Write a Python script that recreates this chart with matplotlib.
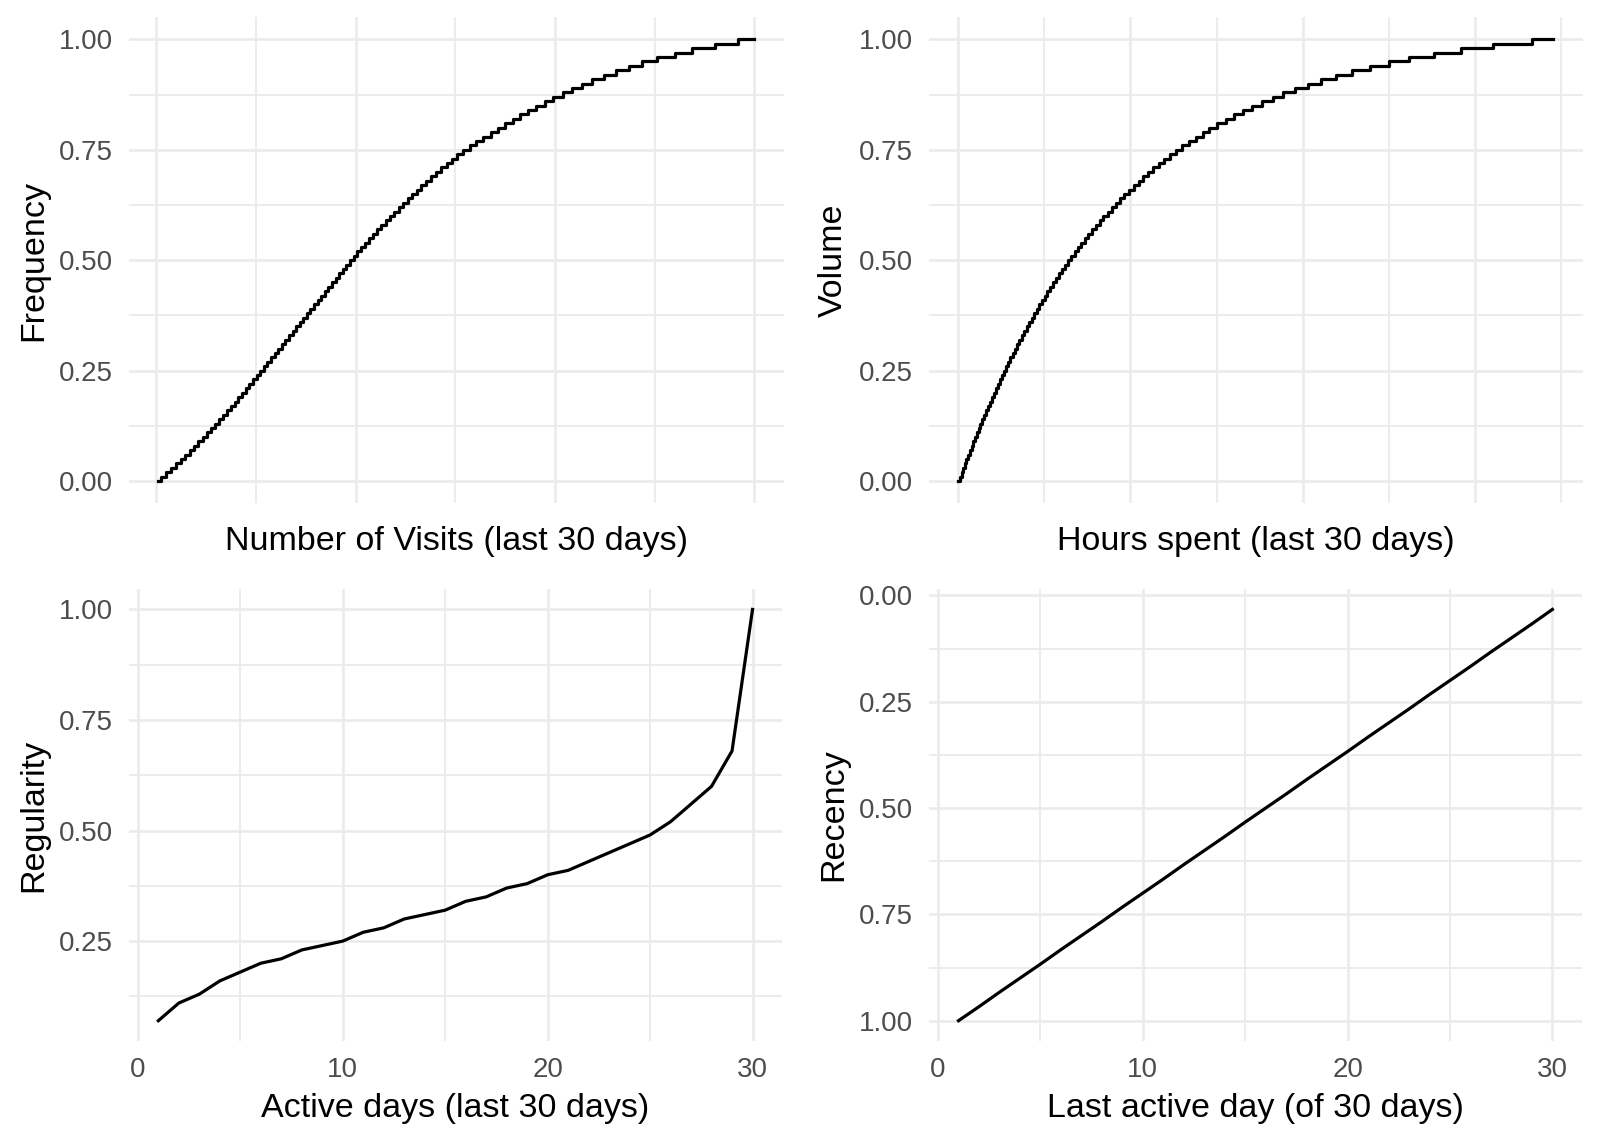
import matplotlib
matplotlib.use("Agg")
import matplotlib.pyplot as plt
from matplotlib.ticker import MultipleLocator, FormatStrFormatter

plt.rcParams["font.family"] = ["Liberation Sans", "DejaVu Sans"]

# cumulative share levels used by the two step curves (last value repeats to close the step)
cdf_levels = [0.00, 0.01, 0.02, 0.03, 0.04, 0.05, 0.06, 0.07, 0.08, 0.09,
              0.10, 0.11, 0.12, 0.13, 0.14, 0.15, 0.16, 0.17, 0.18, 0.19,
              0.20, 0.21, 0.22, 0.23, 0.24, 0.25, 0.26, 0.27, 0.28, 0.29,
              0.30, 0.31, 0.32, 0.33, 0.34, 0.35, 0.36, 0.37, 0.38, 0.39,
              0.40, 0.41, 0.42, 0.43, 0.44, 0.45, 0.46, 0.47, 0.48, 0.49,
              0.50, 0.51, 0.52, 0.53, 0.54, 0.55, 0.56, 0.57, 0.58, 0.59,
              0.60, 0.61, 0.62, 0.63, 0.64, 0.65, 0.66, 0.67, 0.68, 0.69,
              0.70, 0.71, 0.72, 0.73, 0.74, 0.75, 0.76, 0.77, 0.78, 0.79,
              0.80, 0.81, 0.82, 0.83, 0.84, 0.85, 0.86, 0.87, 0.88, 0.89,
              0.90, 0.91, 0.92, 0.93, 0.94, 0.95, 0.96, 0.97, 0.98, 0.99,
              1.00, 1.00]

# number of visits where each level starts
visits_x = [0.10, 0.25, 0.50, 0.74, 0.98, 1.21, 1.44, 1.67, 1.89, 2.11,
            2.33, 2.54, 2.75, 2.95, 3.15, 3.35, 3.54, 3.73, 3.92, 4.11,
            4.30, 4.48, 4.67, 4.85, 5.03, 5.21, 5.39, 5.57, 5.75, 5.93,
            6.11, 6.29, 6.47, 6.65, 6.83, 7.01, 7.19, 7.37, 7.55, 7.73,
            7.91, 8.09, 8.27, 8.45, 8.63, 8.81, 8.99, 9.17, 9.35, 9.53,
            9.71, 9.90, 10.09, 10.28, 10.48, 10.68, 10.88, 11.08, 11.29, 11.50,
            11.71, 11.93, 12.15, 12.37, 12.60, 12.83, 13.06, 13.30, 13.54, 13.79,
            14.04, 14.30, 14.56, 14.83, 15.10, 15.38, 15.72, 16.05, 16.40, 16.78,
            17.15, 17.48, 17.87, 18.23, 18.65, 19.07, 19.49, 19.90, 20.38, 20.88,
            21.38, 21.88, 22.46, 23.08, 23.72, 24.39, 25.14, 26.01, 26.90, 28.02,
            29.19, 30.00]

# hours spent where each level starts
hours_x = [0.00, 0.18, 0.37, 0.56, 0.75, 0.94, 1.14, 1.34, 1.53, 1.74,
           1.94, 2.14, 2.35, 2.56, 2.77, 2.99, 3.21, 3.43, 3.65, 3.88,
           4.11, 4.34, 4.57, 4.81, 5.05, 5.29, 5.54, 5.79, 6.04, 6.30,
           6.56, 6.83, 7.10, 7.37, 7.65, 7.93, 8.21, 8.50, 8.80, 9.10,
           9.40, 9.71, 10.02, 10.34, 10.67, 11.00, 11.34, 11.68, 12.03, 12.39,
           12.75, 13.12, 13.51, 13.89, 14.29, 14.69, 15.11, 15.53, 15.96, 16.41,
           16.86, 17.33, 17.80, 18.30, 18.75, 19.25, 19.80, 20.35, 20.93, 21.51,
           22.09, 22.67, 23.30, 23.95, 24.62, 25.28, 25.98, 26.74, 27.56, 28.37,
           29.15, 30.05, 31.05, 31.98, 33.02, 34.12, 35.28, 36.51, 37.67, 39.07,
           40.58, 42.14, 43.88, 45.74, 47.79, 50.00, 52.41, 55.31, 58.45, 62.14,
           66.67, 69.07]

active_days = list(range(1, 31))
regularity = [0.07, 0.11, 0.13, 0.16, 0.18, 0.20, 0.21, 0.23, 0.24, 0.25,
              0.27, 0.28, 0.30, 0.31, 0.32, 0.34, 0.35, 0.37, 0.38, 0.40,
              0.41, 0.43, 0.45, 0.47, 0.49, 0.52, 0.56, 0.60, 0.68, 1.00]

last_day = list(range(1, 31))
recency = [1.000, 0.967, 0.933, 0.900, 0.867, 0.833, 0.800, 0.767, 0.733, 0.700,
           0.667, 0.633, 0.600, 0.567, 0.533, 0.500, 0.467, 0.433, 0.400, 0.367,
           0.333, 0.300, 0.267, 0.233, 0.200, 0.167, 0.133, 0.100, 0.067, 0.033]

grid_col = "#EBEBEB"
tick_col = "#4D4D4D"


def style(ax, xmaj, xmin, show_x=True):
    ax.xaxis.set_major_locator(MultipleLocator(xmaj))
    ax.xaxis.set_minor_locator(MultipleLocator(xmin))
    ax.yaxis.set_major_locator(MultipleLocator(0.25))
    ax.yaxis.set_minor_locator(MultipleLocator(0.125))
    ax.yaxis.set_major_formatter(FormatStrFormatter("%.2f"))
    ax.grid(which="major", color=grid_col, lw=1.9)
    ax.grid(which="minor", color=grid_col, lw=1.3)
    ax.set_axisbelow(True)
    for s in ax.spines.values():
        s.set_visible(False)
    ax.tick_params(which="both", length=0, labelsize=20, labelcolor=tick_col)
    ax.tick_params(axis="y", pad=11.5)
    ax.tick_params(axis="x", pad=11.5)
    if not show_x:
        ax.tick_params(axis="x", labelbottom=False)


fig = plt.figure(figsize=(16, 11.43), dpi=100)
ax1 = fig.add_axes([0.0804, 0.5598, 0.4096, 0.4251])
ax2 = fig.add_axes([0.5804, 0.5598, 0.4087, 0.4251])
ax3 = fig.add_axes([0.0804, 0.0890, 0.4085, 0.3958])
ax4 = fig.add_axes([0.5805, 0.0890, 0.4083, 0.3958])

ax1.step(visits_x, cdf_levels, where="post", color="black", lw=2.3)
style(ax1, 10, 5, show_x=False)
ax1.set_xlabel("Number of Visits (last 30 days)", fontsize=24.5, labelpad=13)
ax1.set_ylabel("Frequency", fontsize=24.5, labelpad=7)

ax2.step(hours_x, cdf_levels, where="post", color="black", lw=2.3)
style(ax2, 20, 10, show_x=False)
ax2.set_xlabel("Hours spent (last 30 days)", fontsize=24.5, labelpad=13)
ax2.set_ylabel("Volume", fontsize=24.5, labelpad=7)

ax3.plot(active_days, regularity, color="black", lw=2.3)
style(ax3, 10, 5)
ax3.set_xlim(-0.45, 31.45)
ax3.set_xlabel("Active days (last 30 days)", fontsize=24.5, labelpad=7)
ax3.set_ylabel("Regularity", fontsize=24.5, labelpad=7)

ax4.plot(last_day, recency, color="black", lw=2.3)
style(ax4, 10, 5)
ax4.set_xlim(-0.45, 31.45)
ax4.invert_yaxis()
ax4.set_xlabel("Last active day (of 30 days)", fontsize=24.5, labelpad=7)
ax4.set_ylabel("Recency", fontsize=24.5, labelpad=7)

fig.savefig("out.png", dpi=100, facecolor="white")
